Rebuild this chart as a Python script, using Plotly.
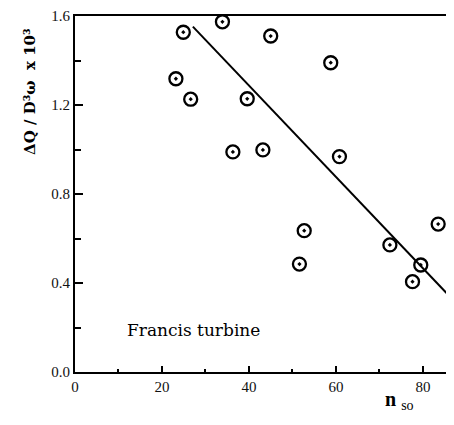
import plotly.graph_objects as go

# Data
n_sq = [23.2, 24.9, 26.6, 33.9, 36.3, 39.6, 43.2, 45.0, 51.6, 52.7, 58.8, 60.8, 72.4, 77.6, 79.5, 83.5]
dq = [1.318, 1.527, 1.226, 1.574, 0.989, 1.228, 0.998, 1.51, 0.485, 0.635, 1.39, 0.968, 0.571, 0.406, 0.481, 0.665]

fit_x = [27.1, 86.0]
fit_y = [1.552, 0.343]

x_ticks = [0, 20, 40, 60, 80]
y_ticks = [0.0, 0.4, 0.8, 1.2, 1.6]
y_tick_labels = ["0.0", "0.4", "0.8", "1.2", "1.6"]

FONT = "Liberation Serif"

fig = go.Figure()
fig.add_trace(go.Scatter(x=fit_x, y=fit_y, mode="lines",
                         line=dict(color="black", width=2), showlegend=False))
fig.add_trace(go.Scatter(x=n_sq, y=dq, mode="markers",
                         marker=dict(symbol="circle-open-dot", size=13, color="black",
                                     line=dict(color="black", width=2.3)),
                         showlegend=False, cliponaxis=False))

fig.update_layout(
    width=438, height=409,
    margin=dict(l=67, r=0, t=8, b=45),
    paper_bgcolor="white", plot_bgcolor="white",
    font=dict(family=FONT, size=15, color="#111"),
    xaxis=dict(range=[0, 85.3], tickvals=x_ticks, ticks="inside", ticklen=6, tickwidth=1.5,
               tickcolor="black", showline=True, linecolor="black", linewidth=2, mirror=True,
               showgrid=False, zeroline=False,
               minor=dict(tickvals=[10, 30, 50, 70], ticks="inside", ticklen=3, tickcolor="black")),
    yaxis=dict(range=[0, 1.6], tickvals=y_ticks, ticktext=y_tick_labels, ticks="inside",
               ticklen=8, tickwidth=1.5, tickcolor="black", showline=True, linecolor="black",
               linewidth=2, showgrid=False, zeroline=False,
               minor=dict(tickvals=[0.2, 0.6, 1.0, 1.4], ticks="inside", ticklen=6, tickcolor="black")),
)

fig.add_annotation(text="Francis turbine", x=11.5, y=0.19, xref="x", yref="y",
                   xanchor="left", yanchor="middle", showarrow=False,
                   font=dict(family="DejaVu Serif", size=17, color="black"))
fig.add_annotation(text="<b>ΔQ / D³ω  x 10³</b>", x=-0.121, y=0.787, xref="paper", yref="paper",
                   textangle=-90, showarrow=False, xanchor="center", yanchor="middle",
                   font=dict(family="DejaVu Serif", size=15, color="black"))
fig.add_annotation(text="<b>n</b> <sub>so</sub>", x=0.876, y=-0.122, xref="paper", yref="paper",
                   showarrow=False, xanchor="center", yanchor="bottom",
                   font=dict(family=FONT, size=20, color="black"))

fig.write_html("out.html")
